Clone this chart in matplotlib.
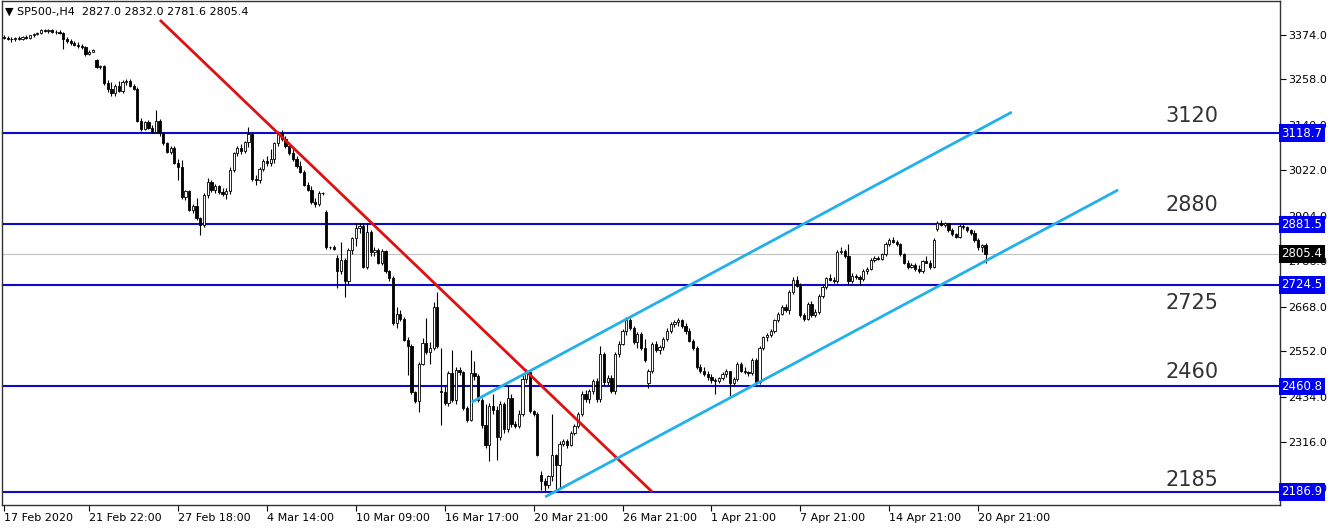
import numpy as np
import matplotlib
matplotlib.use("Agg")
import matplotlib.pyplot as plt

# SP500-,H4 candles (17 Feb 2020 .. 21 Apr 2020)
opens = [3368, 3366, 3364, 3362, 3366, 3363, 3368, 3365, 3372, 3376, 3378, 3386, 3383, 3386, 3380, 3382,
         3378, 3364, 3357, 3352, 3348, 3344, 3341, 3324, 3330, 3308, 3290, 3292, 3248, 3232, 3222, 3240,
         3228, 3250, 3254, 3242, 3234, 3150, 3130, 3146, 3132, 3122, 3150, 3119, 3093, 3069, 3080, 3042,
         3030, 2953, 2968, 2920, 2930, 2898, 2880, 2958, 2991, 2972, 2982, 2966, 2960, 2968, 3023, 3067,
         3080, 3072, 3095, 3115, 2999, 2996, 3026, 3046, 3040, 3052, 3093, 3118, 3104, 3084, 3068, 3050,
         3032, 3018, 2985, 2972, 2940, 2934, 2962, 2914, 2822, 2823, 2794, 2760, 2790, 2734, 2815, 2845,
         2872, 2878, 2772, 2862, 2810, 2815, 2782, 2812, 2760, 2742, 2625, 2650, 2636, 2582, 2566, 2446,
         2424, 2520, 2574, 2550, 2560, 2668, 2450, 2446, 2418, 2495, 2425, 2503, 2497, 2406, 2373, 2495,
         2488, 2425, 2360, 2310, 2410, 2400, 2330, 2415, 2350, 2430, 2362, 2358, 2390, 2480, 2498, 2397,
         2390, 2232, 2215, 2205, 2228, 2282, 2256, 2312, 2320, 2310, 2340, 2358, 2390, 2440, 2428, 2450,
         2476, 2428, 2545, 2472, 2482, 2450, 2545, 2572, 2605, 2632, 2612, 2575, 2598, 2560, 2470, 2500,
         2570, 2556, 2562, 2585, 2606, 2622, 2628, 2632, 2618, 2604, 2580, 2560, 2512, 2500, 2494, 2484,
         2478, 2475, 2482, 2492, 2500, 2470, 2480, 2518, 2502, 2498, 2495, 2530, 2472, 2560, 2588, 2594,
         2604, 2632, 2650, 2668, 2660, 2705, 2738, 2722, 2646, 2636, 2675, 2645, 2655, 2695, 2720, 2742,
         2738, 2735, 2810, 2812, 2800, 2735, 2748, 2745, 2740, 2760, 2766, 2790, 2795, 2792, 2804, 2830,
         2840, 2836, 2830, 2805, 2782, 2772, 2776, 2765, 2760, 2786, 2782, 2772, 2870, 2885, 2880, 2884,
         2866, 2856, 2850, 2876, 2874, 2866, 2860, 2842, 2822, 2827]
highs = [3372, 3370, 3368, 3369, 3370, 3371, 3372, 3374, 3378, 3382, 3388, 3390, 3388, 3390, 3386, 3386,
         3382, 3368, 3362, 3358, 3354, 3350, 3344, 3334, 3336, 3312, 3296, 3295, 3256, 3252, 3246, 3254,
         3256, 3258, 3258, 3246, 3238, 3158, 3150, 3152, 3140, 3178, 3154, 3122, 3096, 3086, 3084, 3050,
         3048, 2972, 2972, 2935, 2950, 2900, 2962, 3002, 2997, 2986, 2984, 2975, 2975, 3030, 3070, 3084,
         3090, 3098, 3134, 3120, 3010, 3030, 3052, 3060, 3076, 3096, 3124, 3126, 3110, 3096, 3078, 3060,
         3045, 3022, 2992, 2980, 2950, 2968, 2966, 2918, 2826, 2828, 2802, 2836, 2795, 2820, 2850, 2885,
         2885, 2884, 2885, 2866, 2822, 2820, 2818, 2816, 2764, 2748, 2667, 2660, 2640, 2590, 2572, 2450,
         2525, 2586, 2638, 2575, 2680, 2706, 2560, 2462, 2500, 2555, 2510, 2510, 2502, 2410, 2555, 2528,
         2492, 2430, 2415, 2418, 2440, 2410, 2422, 2420, 2462, 2440, 2370, 2400, 2490, 2506, 2503, 2400,
         2395, 2240, 2222, 2232, 2390, 2285, 2318, 2325, 2325, 2345, 2362, 2395, 2450, 2452, 2455, 2480,
         2482, 2565, 2550, 2490, 2490, 2550, 2578, 2610, 2640, 2638, 2618, 2602, 2602, 2585, 2505, 2575,
         2580, 2568, 2590, 2612, 2628, 2634, 2638, 2636, 2625, 2612, 2585, 2565, 2520, 2510, 2500, 2492,
         2482, 2485, 2498, 2505, 2502, 2485, 2525, 2525, 2510, 2502, 2535, 2535, 2565, 2592, 2600, 2610,
         2636, 2655, 2672, 2675, 2710, 2745, 2748, 2730, 2652, 2680, 2682, 2662, 2700, 2725, 2745, 2752,
         2745, 2815, 2822, 2818, 2830, 2755, 2752, 2750, 2765, 2770, 2795, 2800, 2800, 2808, 2835, 2845,
         2848, 2842, 2834, 2808, 2790, 2780, 2780, 2775, 2790, 2800, 2788, 2845, 2890, 2892, 2888, 2886,
         2872, 2860, 2882, 2882, 2878, 2870, 2868, 2846, 2830, 2832]
lows = [3362, 3360, 3356, 3358, 3360, 3360, 3362, 3362, 3368, 3372, 3376, 3380, 3378, 3378, 3376, 3375,
        3338, 3352, 3348, 3344, 3340, 3336, 3318, 3320, 3328, 3288, 3284, 3244, 3226, 3215, 3216, 3225,
        3222, 3244, 3238, 3230, 3146, 3124, 3126, 3128, 3118, 3118, 3112, 3088, 3066, 3064, 3038, 2997,
        2948, 2945, 2915, 2910, 2893, 2854, 2875, 2950, 2966, 2962, 2960, 2955, 2948, 2960, 3018, 3060,
        3064, 3066, 3082, 2994, 2985, 2990, 3020, 3034, 3034, 3040, 3086, 3098, 3080, 3062, 3046, 3028,
        3014, 2980, 2968, 2935, 2926, 2928, 2958, 2818, 2818, 2815, 2716, 2752, 2693, 2728, 2805, 2826,
        2858, 2768, 2766, 2800, 2800, 2778, 2776, 2755, 2735, 2620, 2612, 2630, 2578, 2490, 2442, 2418,
        2395, 2516, 2545, 2520, 2555, 2560, 2360, 2412, 2410, 2420, 2415, 2490, 2400, 2368, 2370, 2478,
        2420, 2352, 2300, 2268, 2390, 2270, 2322, 2340, 2342, 2355, 2352, 2352, 2385, 2470, 2392, 2385,
        2280, 2192, 2190, 2198, 2215, 2190, 2194, 2305, 2300, 2305, 2335, 2352, 2385, 2420, 2418, 2442,
        2420, 2420, 2465, 2465, 2445, 2440, 2538, 2568, 2595, 2608, 2570, 2560, 2555, 2525, 2458, 2495,
        2550, 2545, 2555, 2580, 2600, 2615, 2618, 2612, 2598, 2575, 2555, 2505, 2495, 2488, 2478, 2470,
        2440, 2470, 2478, 2485, 2435, 2462, 2475, 2498, 2494, 2488, 2490, 2462, 2468, 2555, 2580, 2588,
        2600, 2628, 2645, 2655, 2650, 2700, 2718, 2640, 2630, 2632, 2640, 2640, 2650, 2690, 2715, 2735,
        2730, 2730, 2805, 2795, 2726, 2730, 2740, 2725, 2735, 2752, 2762, 2785, 2788, 2788, 2800, 2826,
        2832, 2826, 2800, 2778, 2766, 2768, 2760, 2756, 2755, 2780, 2765, 2768, 2865, 2876, 2874, 2862,
        2852, 2845, 2846, 2870, 2862, 2855, 2836, 2815, 2810, 2781.6]
closes = [3366, 3364, 3362, 3366, 3363, 3368, 3365, 3372, 3376, 3378, 3386, 3383, 3386, 3380, 3382, 3378,
          3364, 3357, 3352, 3348, 3344, 3341, 3324, 3330, 3334, 3290, 3292, 3248, 3232, 3222, 3240, 3228,
          3250, 3254, 3242, 3234, 3150, 3130, 3146, 3132, 3122, 3150, 3119, 3093, 3069, 3080, 3042, 3030,
          2953, 2968, 2920, 2930, 2898, 2880, 2958, 2991, 2972, 2982, 2966, 2960, 2968, 3023, 3067, 3080,
          3072, 3095, 3115, 2999, 2996, 3026, 3046, 3040, 3052, 3093, 3118, 3104, 3084, 3068, 3050, 3032,
          3018, 2985, 2972, 2940, 2934, 2962, 2963, 2822, 2823, 2818, 2760, 2790, 2734, 2815, 2845, 2872,
          2878, 2772, 2862, 2810, 2815, 2782, 2812, 2760, 2742, 2625, 2650, 2636, 2582, 2566, 2446, 2424,
          2520, 2574, 2550, 2560, 2668, 2565, 2446, 2418, 2495, 2425, 2503, 2497, 2406, 2373, 2495, 2488,
          2425, 2360, 2310, 2410, 2400, 2330, 2415, 2350, 2430, 2362, 2358, 2390, 2480, 2498, 2397, 2390,
          2284, 2215, 2205, 2228, 2282, 2256, 2312, 2320, 2310, 2340, 2358, 2390, 2440, 2428, 2450, 2476,
          2428, 2545, 2472, 2482, 2450, 2545, 2572, 2605, 2632, 2612, 2575, 2598, 2560, 2530, 2500, 2570,
          2556, 2562, 2585, 2606, 2622, 2628, 2632, 2618, 2604, 2580, 2560, 2512, 2500, 2494, 2484, 2478,
          2475, 2482, 2492, 2500, 2470, 2480, 2518, 2502, 2498, 2495, 2530, 2472, 2560, 2588, 2594, 2604,
          2632, 2650, 2668, 2660, 2705, 2738, 2722, 2646, 2636, 2675, 2645, 2655, 2695, 2720, 2742, 2738,
          2735, 2810, 2812, 2800, 2735, 2748, 2745, 2740, 2760, 2766, 2790, 2795, 2792, 2804, 2830, 2840,
          2836, 2830, 2805, 2782, 2772, 2776, 2765, 2760, 2786, 2782, 2772, 2840, 2885, 2880, 2884, 2866,
          2856, 2850, 2876, 2874, 2866, 2860, 2842, 2822, 2827, 2805.4]

# horizontal levels and their big captions
levels = [3118.7, 2881.5, 2724.5, 2460.8, 2186.9]
level_names = ["3120", "2880", "2725", "2460", "2185"]
last_price = 2805.4

# trend lines: (bar index, price) end points
red_x = [42.1, 175.0]
red_y = [3412.0, 2186.9]
chan_up_x = [126.3, 272.1]
chan_up_y = [2420.0, 3173.0]
chan_lo_x = [146.1, 300.8]
chan_lo_y = [2174.0, 2971.0]

price_ticks = [3374.0, 3258.0, 3140.0, 3022.0, 2904.0, 2786.0, 2668.0, 2552.0, 2434.0, 2316.0, 2198.0]
date_pos = [0, 23, 47, 71, 95, 119, 143, 167, 191, 215, 239, 263]
date_labels = ["17 Feb 2020", "21 Feb 22:00", "27 Feb 18:00", "4 Mar 14:00", "10 Mar 09:00",
               "16 Mar 17:00", "20 Mar 21:00", "26 Mar 21:00", "1 Apr 21:00", "7 Apr 21:00",
               "14 Apr 21:00", "20 Apr 21:00"]

o = np.array(opens, dtype=float)
h = np.array(highs, dtype=float)
l = np.array(lows, dtype=float)
c = np.array(closes, dtype=float)
x = np.arange(len(c))

fig = plt.figure(figsize=(13.32, 5.28), dpi=100)
ax = fig.add_axes([2 / 1332, 23 / 528, 1278 / 1332, 504 / 528])

ax.axhline(last_price, color="#c0c0c0", lw=0.8, zorder=1)
for lv in levels:
    ax.axhline(lv, color="#0a0ac8", lw=1.5, zorder=2)

# candles
ax.vlines(x, l, h, color="black", lw=0.8, zorder=3)
up = c >= o
body_lo = np.minimum(o, c)
body_h = np.maximum(np.abs(c - o), 0.8)
ax.bar(x[up], body_h[up], bottom=body_lo[up], width=0.6, color="white",
       edgecolor="black", linewidth=0.6, zorder=4)
ax.bar(x[~up], body_h[~up], bottom=body_lo[~up], width=0.6, color="black",
       edgecolor="black", linewidth=0.6, zorder=4)

ax.plot(red_x, red_y, color="#e01010", lw=2, zorder=5, solid_capstyle="butt")
ax.plot(chan_up_x, chan_up_y, color="#22b0ea", lw=2, zorder=5, solid_capstyle="butt")
ax.plot(chan_lo_x, chan_lo_y, color="#22b0ea", lw=2, zorder=5, solid_capstyle="butt")

# big captions next to the levels
offs = [17, 19, -18, 14, 12]
for lv, name, dy in zip(levels, level_names, offs):
    ax.annotate(name, xy=(320.7, lv), xytext=(0, dy), textcoords="offset pixels",
                ha="center", va="center", fontsize=15, color="#333333")

ax.set_xlim(-0.54, 344.5)
ax.set_ylim(2153.0, 3461.4)

ax.yaxis.tick_right()
ax.set_yticks(price_ticks)
ax.set_yticklabels([f"{p:.1f}" for p in price_ticks], fontsize=8)
ax.tick_params(axis="y", length=4, width=0.8, pad=2, colors="black")
ax.set_xticks(date_pos)
ax.set_xticklabels(date_labels, fontsize=8, ha="left")
ax.tick_params(axis="x", length=4, width=0.8, pad=2)
for s in ax.spines.values():
    s.set_linewidth(1.0)
    s.set_color("#333333")

# price tags on the right scale (they sit on top of the nearby ticks, as in MT4)
ytr = ax.get_yaxis_transform()
for lv in levels:
    ax.text(1.0012, lv, f"{lv:.1f}", transform=ytr, ha="left", va="center", fontsize=8.5,
            color="white", zorder=10,
            bbox=dict(boxstyle="square,pad=0.2", fc="#0000f0", ec="none"))
ax.text(1.0012, last_price, f"{last_price:.1f}", transform=ytr, ha="left", va="center",
        fontsize=8.5, color="white", zorder=10,
        bbox=dict(boxstyle="square,pad=0.2", fc="black", ec="none"))

fig.text(5 / 1332, 1 - 12 / 528, "\u25bc SP500-,H4  2827.0 2832.0 2781.6 2805.4",
         fontsize=8, va="center", ha="left")

fig.savefig("out.png", dpi=100)
